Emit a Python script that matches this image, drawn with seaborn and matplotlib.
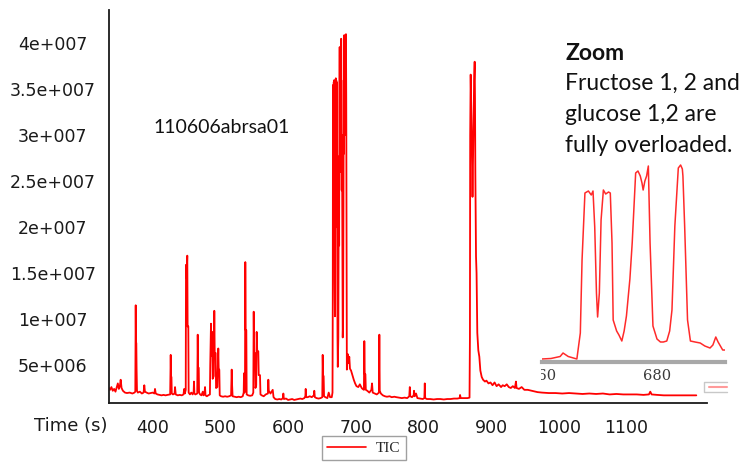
import matplotlib.pyplot as plt
import numpy as np
import pandas as pd
import seaborn as sns
from matplotlib.ticker import FuncFormatter
from matplotlib.transforms import Bbox, TransformedBbox
from matplotlib.lines import Line2D

# ---------------------------------------------
# TIC trace (intensity in millions of counts)
# ---------------------------------------------
time_s = [
    335.5, 337, 339, 341, 343, 345, 347, 348.5, 350, 351.5, 352.7, 354, 356, 359, 362, 366, 370, 373,
    374.3, 374.9, 375.3, 375.8, 376.2, 376.8, 378, 381, 384, 386.5, 387.6, 388.5, 391, 394, 397, 400,
    402.5, 403.4, 404.5, 407, 410, 413, 416, 419, 422, 425.8, 426.6, 427.1, 427.7, 428.2, 430, 432.3,
    433, 434, 437, 440, 443, 445.5, 446.5, 447.5, 448.8, 449.2, 450.0, 451.1, 451.6, 452.6, 453.1,
    455, 457, 459, 460.5, 461, 461.6, 463, 465.8, 466.5, 467.0, 468.0, 468.5, 470, 472, 474, 475,
    476.5, 477.3, 478, 480, 482, 484.5, 485.0, 486.1, 486.8, 488.0, 488.6, 490.2, 491.0, 491.6, 493.0,
    493.6, 495.5, 496.9, 497.5, 498.4, 499.0, 501, 504, 507, 510, 513, 515.8, 516.7, 517.3, 518, 521,
    524, 527, 530, 533, 534.4, 534.9, 535.5, 536.3, 536.8, 537.3, 538.3, 538.8, 541, 544, 547, 548.6,
    549.2, 549.8, 551.1, 551.8, 552.9, 553.6, 554.4, 556.0, 556.6, 558.5, 559.2, 561, 564, 567, 570.2,
    570.8, 571.5, 574, 577.3, 578.5, 581, 584, 587, 590, 592.3, 593, 593.8, 597, 600, 603, 606, 609,
    612, 615, 618, 621, 624, 625.5, 626, 626.7, 629, 632, 635, 638, 638.7, 639.5, 642, 645, 648, 650.5,
    651.1, 651.7, 652.5, 653.1, 655, 658, 660, 662, 664.5,
    # sugar cluster
    665.6, 666.0, 666.3, 666.6, 666.9, 667.2, 667.5, 667.8, 668.1, 668.5, 668.8, 669.2, 669.5, 669.8,
    670.1, 670.5, 670.8, 671.1, 671.4, 671.8, 672.2, 672.6, 673.0, 673.4,
    674.2, 674.6, 675.0, 675.4, 675.8, 676.2, 676.6, 677.0, 677.4, 677.8, 678.1, 678.4, 678.8, 679.2,
    679.6, 680.0, 680.4, 680.7,
    681.3, 681.8, 682.2, 682.6, 683.0, 683.4, 683.8, 684.2, 684.6, 685.0, 685.5, 685.9, 686.2, 686.5,
    686.8, 688.0,
    689.0, 690.4, 691.4, 693, 695, 697, 699, 701, 703.7, 706, 708.7, 710, 712.0, 712.6, 713.2, 714.2,
    714.8, 717, 720, 723, 724, 725, 728, 731, 734.2, 734.8, 735.4, 737, 740, 743, 746, 750, 753, 757,
    760, 764, 768, 772, 776, 779, 779.8, 780.5, 783, 785.5, 786, 787, 789, 791, 795, 799, 801.3, 801.9,
    802.5, 805, 810, 815, 820, 825, 830, 835, 840, 845, 850, 853.5, 854, 855, 860, 865, 868.0, 868.6,
    869.0, 869.7, 870.5, 871.6, 872.4, 873.6, 874.8, 875.6, 876.1, 876.6, 877.6, 878.4, 879.5, 881,
    882.5, 884, 886, 888, 890.8, 893, 896, 899, 902, 905, 908, 911, 914.6, 917, 920, 923, 926, 929, 932,
    935, 936.6, 937.5, 941, 945, 949, 954, 960, 968.5, 975, 985, 995, 1005, 1015, 1025, 1035, 1045,
    1055, 1065, 1075, 1085, 1095, 1105, 1115, 1125, 1133, 1135, 1137, 1145, 1155, 1165, 1175, 1185,
    1195, 1203,
]
tic_millions = [
    2.5, 2.3, 2.6, 2.2, 2.4, 2.1, 2.6, 3.0, 2.4, 2.7, 3.4, 2.5, 2.2, 2.0, 1.95, 2.0, 1.9, 2.0,
    2.1, 11.5, 7.4, 7.4, 4.6, 2.2, 2.0, 2.1, 1.9, 2.0, 2.8, 2.1, 2.0, 1.9, 1.95, 2.0,
    1.9, 2.4, 1.9, 1.8, 1.75, 1.7, 1.75, 1.7, 1.75, 1.8, 6.1, 3.7, 3.7, 1.9, 1.8, 1.9,
    2.6, 1.8, 1.7, 1.75, 1.7, 1.8, 2.4, 1.9, 2.3, 15.9, 14.5, 16.9, 9.2, 9.2, 2.0,
    1.8, 2.0, 1.8, 2.1, 3.2, 1.9, 1.8, 1.9, 8.3, 4.7, 4.7, 2.0, 1.8, 1.7, 2.1, 1.7,
    1.9, 2.6, 1.7, 1.6, 1.7, 1.8, 5.0, 9.5, 6.0, 8.6, 3.5, 3.8, 10.9, 6.3, 6.3,
    2.5, 2.6, 6.8, 4.5, 4.5, 1.7, 1.6, 1.55, 1.6, 1.55, 1.6, 1.7, 4.5, 2.8, 1.6, 1.55,
    1.5, 1.55, 1.5, 1.6, 2.0, 4.1, 2.0, 2.2, 16.2, 8.8, 8.8, 1.8, 1.7, 1.65, 1.7, 2.0,
    10.8, 6.3, 6.3, 2.5, 2.8, 8.6, 6.5, 6.5, 3.9, 3.9, 1.8, 1.7, 1.6, 1.8, 1.9,
    3.4, 2.2, 1.9, 2.3, 1.5, 1.3, 1.25, 1.3, 1.25, 1.4, 1.9, 1.3, 1.35, 1.2, 1.25, 1.3, 1.2,
    1.25, 1.3, 1.35, 1.3, 1.4, 1.6, 2.4, 1.5, 1.5, 1.6, 1.5, 1.7, 2.2, 1.5, 1.4, 1.35, 1.4, 1.5,
    6.1, 3.8, 3.8, 1.6, 1.5, 1.4, 2.0, 1.5, 1.5,
    # sugar cluster
    2.0, 12.0, 34.6, 20.0, 35.5, 26.0, 35.8, 22.0, 36.0, 28.0, 14.0, 10.3, 24.0, 33.0,
    22.0, 36.2, 27.0, 36.0, 20.0, 35.8, 26.0, 14.0, 8.0, 4.8,
    8.0, 20.0, 27.7, 18.0, 33.0, 39.6, 28.0, 38.5, 30.0, 39.5, 26.0, 40.5, 32.0, 24.0,
    30.0, 22.8, 14.0, 8.0,
    10.0, 22.0, 36.0, 28.0, 40.9, 30.0, 40.6, 33.0, 40.8, 31.0, 41.0, 34.0, 24.0, 12.0,
    4.5, 6.2,
    5.2, 5.9, 4.6, 4.4, 3.9, 3.4, 3.0, 2.7, 2.6, 2.9, 2.5, 2.4, 2.3, 7.6, 4.0, 4.0,
    2.3, 2.2, 2.0, 2.3, 3.0, 2.0, 1.9, 1.8, 2.0, 8.3, 2.2, 1.9, 1.7, 1.6, 1.55, 1.6, 1.5, 1.55,
    1.5, 1.45, 1.4, 1.45, 1.4, 1.6, 2.6, 1.6, 1.5, 1.7, 2.2, 1.6, 1.9, 1.4, 1.35, 1.3, 1.4, 3.0,
    1.4, 1.3, 1.3, 1.25, 1.3, 1.3, 1.25, 1.3, 1.3, 1.35, 1.35, 1.4, 1.74, 1.4, 1.4, 1.4, 1.45, 8.0,
    30.0, 36.6, 33.0, 28.0, 23.3, 29.8, 36.0, 38.0, 34.0, 25.9, 16.8, 15.0, 8.5, 6.6,
    5.9, 4.4, 3.7, 3.4, 3.2, 3.3, 3.0, 3.1, 2.8, 3.1, 2.7, 2.9, 2.6, 2.8, 2.7, 2.9, 2.6, 2.5, 2.7,
    2.5, 3.2, 2.5, 2.4, 2.6, 2.3, 2.3, 2.2, 2.05, 2.0, 1.95, 1.95, 1.9, 1.95, 1.9, 1.85, 1.9,
    1.85, 1.9, 1.8, 1.85, 1.8, 1.8, 1.8, 1.75, 1.8, 2.1, 1.8, 1.75, 1.7, 1.7, 1.7, 1.7,
    1.7, 1.7,
]

# zoomed view of the 660-692 s sugar cluster (relative detector units)
zoom_time = [
    660.0, 661.6, 663.2, 663.7, 664.6, 666.1, 666.7, 667.0, 667.5, 668.1, 668.6, 668.9, 669.2, 669.5,
    669.7, 670.0, 670.3, 670.7, 671.1, 671.6, 671.9, 672.2, 672.4, 673.0, 673.4, 673.9, 674.3, 674.7,
    675.3, 675.7, 676.3, 676.7, 677.1, 677.4, 677.6, 677.9, 678.2, 678.5, 678.8, 679.3, 680.0, 680.6,
    681.1, 681.7, 682.2, 682.6, 683.1, 683.7, 684.1, 684.4, 684.5, 684.8, 685.3, 685.8, 686.6, 687.5,
    688.3, 689.2, 689.7, 690.2, 690.6, 691.0, 691.4, 691.8,
]
zoom_signal = [
    0, 0.5, 2.5, 6, 2.5, 0, 26, 99, 166, 168, 164, 168, 132, 66,
    42, 66, 139, 169, 165, 167, 166, 116, 39, 28, 24, 18, 28, 43,
    80, 116, 186, 188, 183, 176, 169, 178, 183, 193, 116, 33, 20, 17,
    17, 18, 28, 49, 133, 191, 194, 190, 183, 133, 39, 18, 17, 16,
    13, 11, 14, 22, 17, 13, 9, 9,
]

x_ticks = [400, 500, 600, 700, 800, 900, 1000, 1100]
y_ticks = [5e6, 1e7, 1.5e7, 2e7, 2.5e7, 3e7, 3.5e7, 4e7]

sns.set_style("white")
plt.rcParams["font.family"] = ["DejaVu Sans"]

W, H = 748, 468


def fx(px):
    return px / W


def fy(py):
    return 1 - py / H


def sci_label(v, pos):
    e = int(np.floor(np.log10(abs(v)) + 1e-9))
    return f"{v / 10 ** e:g}e+{e:03d}"


fig = plt.figure(figsize=(7.48, 4.68), dpi=100)

# ---------------- main chromatogram ----------------
ax = fig.add_axes([fx(109), fy(402.7), fx(707 - 109), 392.7 / H])
df = pd.DataFrame({"Time (s)": time_s, "TIC": np.array(tic_millions) * 1e6})
sns.lineplot(data=df, x="Time (s)", y="TIC", ax=ax, color="#ff0000", lw=1.3,
             sort=False, estimator=None, legend=False)

ax.set_xlim(335.45, 1218.8)
ax.set_ylim(0.9e6, 43.63e6)
ax.set_xticks(x_ticks)
ax.set_yticks(y_ticks)
ax.yaxis.set_major_formatter(FuncFormatter(sci_label))
for s in ["top", "right"]:
    ax.spines[s].set_visible(False)
for s in ["left", "bottom"]:
    ax.spines[s].set_color("#1a1a1a")
    ax.spines[s].set_linewidth(1.3)
ax.tick_params(axis="both", direction="out", length=7, width=1, color="#1a1a1a",
               labelsize=12.5, labelcolor="#1a1a1a")
ax.tick_params(axis="x", pad=5)
ax.tick_params(axis="y", pad=33.5)
for lbl in ax.get_yticklabels():
    lbl.set_horizontalalignment("center")

ax.set_ylabel("")
ax.set_xlabel("Time (s)", fontsize=13, color="#1a1a1a")
ax.xaxis.label.set_horizontalalignment("right")
ax.xaxis.label.set_verticalalignment("center")
ax.xaxis.set_label_coords(-0.003, -0.059)

fig.legend(handles=[Line2D([], [], color="#ff0000", lw=1.2)], labels=["TIC"],
           loc="center", bbox_to_anchor=(fx(364), fy(448)),
           prop={"family": "Liberation Serif", "size": 11},
           frameon=True, fancybox=False, edgecolor="#a0a0a0", framealpha=1,
           handlelength=2.5, handletextpad=0.7, borderpad=0.35, borderaxespad=0)

# ---------------- annotations ----------------
txt = dict(family="Lato", color="#111111", ha="left", va="baseline")
fig.text(fx(153), fy(133), "110606abrsa01", size=14, **txt)
fig.text(fx(565), fy(60), "Zoom", size=16.5, weight="bold", **txt)
fig.text(fx(565), fy(90), "Fructose 1, 2 and", size=16.5, **txt)
fig.text(fx(565), fy(121), "glucose 1,2 are", size=16.5, **txt)
fig.text(fx(565), fy(152), "fully overloaded.", size=16.5, **txt)

# ---------------- zoom inset ----------------
ax_in = fig.add_axes([fx(541.7), fy(361.5), fx(725 - 541.7), 201.5 / H])
ax_in.patch.set_visible(False)
zdf = pd.DataFrame({"t": zoom_time, "s": zoom_signal})
sns.lineplot(data=zdf, x="t", y="s", ax=ax_in, color="#ff2a2a", lw=1.1,
             sort=False, estimator=None, legend=False)
ax_in.set_xlim(660.0, 691.8)
ax_in.set_ylim(-2.5, 199)
ax_in.set_xlabel("")
ax_in.set_ylabel("")
ax_in.set_yticks([])
ax_in.set_xticks([660, 680])
for s in ["top", "right", "left"]:
    ax_in.spines[s].set_visible(False)
ax_in.spines["bottom"].set_color("#a8a8a8")
ax_in.spines["bottom"].set_linewidth(3)
ax_in.tick_params(axis="x", direction="inout", length=7, width=1, color="#222222",
                  labelsize=10.5, labelcolor="#3a3a3a", pad=2)
for lbl in ax_in.get_xticklabels():
    lbl.set_family("DejaVu Serif")
ticks = ax_in.xaxis.get_major_ticks()
ticks[0].tick1line.set_visible(False)
clip = TransformedBbox(Bbox([[fx(541), 0], [1, 1]]), fig.transFigure)
for t in ticks:
    t.label1.set_clip_box(clip)
    t.label1.set_clip_on(True)

# cropped legend box of the zoomed screenshot
fig.add_artist(Line2D([fx(727), fx(704), fx(704), fx(727)], [fy(381.7), fy(381.7), fy(391.7), fy(391.7)],
                      transform=fig.transFigure, color="#c8c8c8", lw=1))
fig.add_artist(Line2D([fx(709), fx(727)], [fy(386.7), fy(386.7)],
                      transform=fig.transFigure, color="#ff9a9a", lw=1.5))

fig.savefig("out.png", dpi=100)
